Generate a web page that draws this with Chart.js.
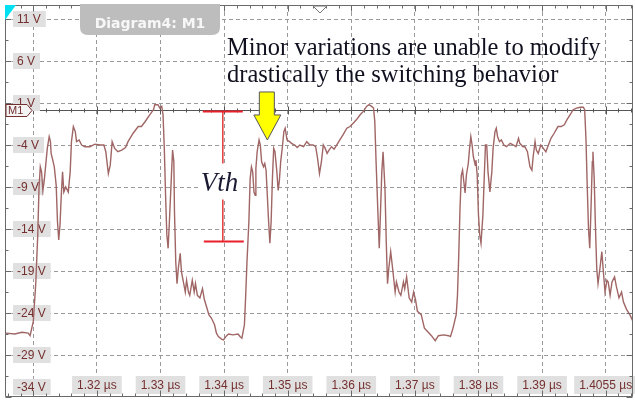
<!DOCTYPE html>
<html><head><meta charset="utf-8">
<script src="https://cdn.jsdelivr.net/npm/chart.js@4.4.0/dist/chart.umd.min.js"></script>
<style>html,body{margin:0;padding:0;background:#fff}#wrap{width:635px;height:400px}</style>
</head><body><div id="wrap"><canvas id="c" width="635" height="400"></canvas></div>
<script>
// ---- data (time in ns, voltage in V) ----
const TIME_NS = [
1305.7,1307.1,1308.2,1309.2,1309.5,1310.0,1310.4,1310.7,1310.9,1311.1,
1311.3,1311.5,1311.7,1312.0,1312.2,1312.5,1312.7,1312.8,1313.0,1313.3,
1313.6,1313.8,1314.0,1314.2,1314.4,1314.6,1314.8,1315.1,1315.5,1315.8,
1316.0,1316.3,1316.6,1316.8,1317.2,1317.6,1318.1,1318.9,1319.7,1320.5,
1321.1,1321.4,1321.8,1322.1,1322.4,1322.8,1323.3,1323.9,1324.5,1324.9,
1325.7,1326.5,1327.0,1327.6,1328.3,1328.9,1329.1,1329.6,1329.9,1330.2,
1330.4,1330.6,1330.8,1331.0,1331.2,1331.4,1331.7,1331.9,1332.1,1332.2,
1332.4,1332.6,1332.8,1333.1,1333.3,1333.6,1333.9,1334.1,1334.4,1334.6,
1335.0,1335.3,1335.5,1335.8,1336.2,1336.6,1336.9,1337.3,1337.6,1338.0,
1338.5,1338.8,1339.1,1339.6,1339.9,1340.4,1340.7,1341.4,1342.2,1342.5,
1342.8,1343.2,1343.4,1343.6,1343.9,1344.1,1344.3,1344.5,1344.7,1344.9,
1345.0,1345.2,1345.5,1345.7,1345.9,1346.2,1346.4,1346.6,1346.8,1347.0,
1347.2,1347.4,1347.6,1347.8,1348.0,1348.3,1348.5,1348.7,1348.9,1349.2,
1349.4,1349.6,1349.9,1350.3,1350.6,1351.1,1351.5,1351.9,1352.5,1353.0,
1353.5,1354.0,1354.4,1354.7,1355.0,1355.3,1355.6,1355.9,1356.2,1356.5,
1356.9,1357.3,1357.7,1358.2,1358.7,1359.3,1359.8,1360.3,1360.8,1361.4,
1361.9,1362.4,1362.8,1363.2,1363.5,1363.7,1363.9,1364.2,1364.4,1364.6,
1364.8,1365.0,1365.3,1365.5,1365.7,1365.9,1366.2,1366.5,1366.9,1367.1,
1367.5,1367.8,1368.2,1368.4,1368.7,1369.1,1369.5,1369.8,1370.1,1370.4,
1371.0,1371.5,1372.1,1372.6,1373.2,1373.7,1374.5,1375.3,1375.6,1376.0,
1376.5,1376.7,1376.9,1377.1,1377.3,1377.5,1377.7,1377.9,1378.1,1378.4,
1378.6,1378.8,1379.0,1379.2,1379.5,1379.6,1379.8,1380.0,1380.2,1380.4,
1380.7,1380.9,1381.1,1381.3,1381.5,1381.8,1382.1,1382.3,1382.6,1382.8,
1383.0,1383.3,1383.6,1384.0,1384.4,1385.0,1385.5,1385.9,1386.3,1386.5,
1387.0,1387.3,1387.7,1388.1,1388.4,1388.6,1388.9,1389.1,1389.4,1389.8,
1390.2,1390.6,1391.0,1391.4,1391.9,1392.5,1393.0,1393.5,1393.9,1394.4,
1394.9,1395.4,1396.0,1396.5,1396.7,1396.9,1397.1,1397.3,1397.5,1397.7,
1397.9,1398.0,1398.2,1398.4,1398.6,1398.8,1399.1,1399.4,1399.6,1399.9,
1400.2,1400.4,1400.7,1401.0,1401.4,1401.7,1402.1,1402.5,1402.8,1403.3,
1403.8,1404.3,1404.6];
const VOLTS = [
-26.4,-26.5,-26.3,-26.4,-26.7,-25.0,-20.3,-14.7,-9.1,-6.6,
-7.2,-9.4,-8.4,-6.0,-4.4,-3.0,-3.6,-5.0,-5.6,-6.6,
-8.8,-13.1,-15.3,-13.5,-10.0,-7.2,-9.6,-9.0,-9.6,-7.2,
-3.6,-1.8,-2.4,-3.6,-3.4,-4.0,-4.2,-4.2,-3.9,-4.0,
-4.0,-4.8,-7.4,-6.4,-3.6,-4.4,-4.8,-4.6,-4.3,-3.6,
-2.6,-1.8,-1.8,-1.2,-0.4,0.2,0.8,0.8,0.4,0.6,
-0.4,-4.4,-10.0,-14.7,-16.3,-13.1,-8.0,-4.6,-6.0,-11.9,
-17.9,-20.5,-18.7,-16.9,-19.1,-20.3,-21.5,-20.1,-21.5,-21.9,
-20.1,-21.5,-20.5,-21.9,-22.2,-21.1,-22.4,-23.4,-24.2,-24.6,
-25.4,-26.4,-26.8,-27.1,-27.2,-26.7,-26.5,-26.6,-26.5,-26.8,
-27.0,-25.4,-21.9,-17.9,-13.1,-8.0,-6.6,-7.2,-9.6,-10.0,
-6.8,-4.8,-3.4,-4.0,-6.0,-6.6,-6.2,-7.0,-10.0,-13.1,
-15.7,-13.1,-8.0,-4.4,-4.8,-7.2,-9.4,-8.2,-6.0,-4.0,
-2.4,-2.0,-3.4,-3.6,-3.8,-4.0,-4.3,-4.0,-4.2,-3.6,
-4.0,-4.0,-4.2,-5.6,-7.4,-6.0,-4.0,-4.4,-5.0,-4.6,
-4.2,-4.5,-4.0,-3.4,-2.8,-2.0,-1.8,-1.4,-1.0,-0.4,
0.0,0.6,0.8,0.6,0.4,-1.2,-6.0,-12.3,-16.3,-11.9,
-7.2,-4.8,-9.2,-15.5,-20.5,-18.7,-16.7,-18.7,-21.5,-20.3,
-21.5,-21.9,-20.3,-21.1,-19.7,-22.2,-22.7,-21.5,-22.4,-23.8,
-24.2,-25.8,-26.3,-26.7,-27.3,-26.7,-26.6,-26.7,-26.8,-25.8,
-24.2,-21.9,-17.1,-11.5,-7.6,-7.0,-8.4,-9.7,-7.6,-6.2,
-4.4,-3.0,-4.0,-5.4,-6.4,-5.8,-7.6,-12.3,-14.7,-15.7,
-12.3,-8.0,-4.0,-4.0,-7.2,-9.6,-7.2,-4.4,-2.4,-2.0,
-3.0,-3.6,-3.4,-4.0,-4.2,-3.8,-4.0,-4.2,-3.2,-3.8,
-4.2,-4.2,-4.8,-6.6,-7.0,-5.4,-3.6,-4.6,-5.0,-4.0,
-4.4,-4.8,-4.0,-3.2,-2.6,-1.8,-1.8,-1.6,-1.0,-0.4,
0.2,0.4,0.5,0.5,0.2,-3.2,-8.8,-13.9,-16.3,-11.5,
-6.0,-4.8,-8.0,-13.9,-18.7,-20.5,-18.7,-16.7,-18.7,-21.5,
-20.1,-20.3,-21.9,-20.3,-19.7,-20.9,-22.2,-21.5,-22.7,-23.6,
-24.2,-25.0,-25.4];

const X_TICKS = [1310,1320,1330,1340,1350,1360,1370,1380,1390,1400];
const X_TICK_LABELS = ['', '1.32 µs','1.33 µs','1.34 µs','1.35 µs','1.36 µs','1.37 µs','1.38 µs','1.39 µs','1.4055 µs'];
const Y_TICKS = [11,6,1,-4,-9,-14,-19,-24,-29,-34];
const Y_TICK_LABELS = ['11 V','6 V','1 V','-4 V','-9 V','-14 V','-19 V','-24 V','-29 V','-34 V'];
const M1_LEVEL = 0.2;
const VTH_TIME = 1339.8, VTH_HIGH = 0.0, VTH_LOW = -15.5;
const ARROW_TIP = {t: 1346.8, v: -3.4};
const NOTE_LINES = ['Minor variations are unable to modify', 'drastically the switching behavior'];
const TAB_TITLE = 'Diagram4: M1';

const X_MIN = 1305.55, X_MAX = 1404.3, Y_MIN = -34, Y_MAX = 12.67;

const LABEL_FONT = '12px "Liberation Sans", Arial, sans-serif';
const LABEL_COLOR = '#74302f';
const BOX_COLOR = '#e0e0e0';
const FRAME = '#6a6a6a';

const bgPlugin = {
  id: 'scopeBack',
  beforeDatasetsDraw(chart) {
    const {ctx, chartArea: a, scales: {x, y}} = chart;
    ctx.save();
    const my = Math.round(y.getPixelForValue(M1_LEVEL)) + 0.5;
    ctx.strokeStyle = '#555';
    ctx.lineWidth = 1;
    ctx.beginPath();
    ctx.moveTo(a.left, my); ctx.lineTo(a.right, my);
    for (let t = 1306; t <= 1404; t += 2) {
      const px = Math.round(x.getPixelForValue(t)) + 0.5;
      const len = (t % 10 === 0) ? 4 : 2;
      ctx.moveTo(px, my - len); ctx.lineTo(px, my + len);
    }
    ctx.stroke();
    ctx.font = LABEL_FONT;
    ctx.textBaseline = 'middle';
    ctx.textAlign = 'left';
    Y_TICKS.forEach((v, i) => {
      let py = y.getPixelForValue(v);
      if (py > a.bottom - 10) py = a.bottom - 10;
      const txt = Y_TICK_LABELS[i];
      const w = ctx.measureText(txt).width;
      ctx.fillStyle = BOX_COLOR;
      ctx.fillRect(a.left + 8, py - 8, w + 9, 16);
      ctx.fillStyle = LABEL_COLOR;
      ctx.fillText(txt, a.left + 12, py + 0.5);
    });
    ctx.textAlign = 'center';
    X_TICKS.forEach((v, i) => {
      const txt = X_TICK_LABELS[i];
      if (!txt) return;
      const px = x.getPixelForValue(v);
      const w = ctx.measureText(txt).width;
      const cy = a.bottom - 12;
      ctx.fillStyle = BOX_COLOR;
      ctx.fillRect(px - w / 2 - 5, cy - 9, w + 10, 18);
      ctx.fillStyle = LABEL_COLOR;
      ctx.fillText(txt, px, cy + 0.5);
    });
    ctx.restore();
  }
};

const fgPlugin = {
  id: 'scopeFront',
  afterDraw(chart) {
    const {ctx, chartArea: a, scales: {x, y}} = chart;
    ctx.save();
    ctx.strokeStyle = FRAME;
    ctx.lineWidth = 1;
    ctx.beginPath();
    const L = a.left + 0.5, R = a.right - 0.5, T = a.top + 0.5, B = a.bottom - 0.5;
    ctx.moveTo(L, T); ctx.lineTo(L, B); ctx.lineTo(R, B); ctx.lineTo(R, T); ctx.lineTo(L, T);
    for (let t = 1306; t <= 1404; t += 2) {
      const px = Math.round(x.getPixelForValue(t)) + 0.5;
      const len = (t % 10 === 0) ? 6 : 3;
      ctx.moveTo(px, B); ctx.lineTo(px, B - len);
      ctx.moveTo(px, T); ctx.lineTo(px, T + len);
    }
    for (let k = 0; k <= 18; k++) {
      const v = -34 + k * 2.5;
      const py = Math.round(y.getPixelForValue(v)) + 0.5;
      const len = (k % 2 === 0) ? 6 : 3;
      ctx.moveTo(L, py); ctx.lineTo(L + len, py);
      ctx.moveTo(R, py); ctx.lineTo(R - len, py);
    }
    ctx.stroke();

    const my = Math.round(y.getPixelForValue(M1_LEVEL)) + 0.5;
    ctx.beginPath();
    ctx.moveTo(a.left + 1, my - 6); ctx.lineTo(a.left + 22, my - 6);
    ctx.lineTo(a.left + 27, my); ctx.lineTo(a.left + 22, my + 6); ctx.lineTo(a.left + 1, my + 6);
    ctx.closePath();
    ctx.fillStyle = '#f3f3f3'; ctx.fill();
    ctx.strokeStyle = '#74302f'; ctx.stroke();
    ctx.fillStyle = '#74302f';
    ctx.font = '11px "Liberation Sans", Arial, sans-serif';
    ctx.textAlign = 'left'; ctx.textBaseline = 'middle';
    ctx.fillText('M1', a.left + 3, my + 0.5);

    const vx = x.getPixelForValue(VTH_TIME);
    const vyH = y.getPixelForValue(VTH_HIGH), vyL = y.getPixelForValue(VTH_LOW);
    ctx.strokeStyle = '#e23a3a'; ctx.lineWidth = 1.5;
    ctx.beginPath(); ctx.moveTo(vx, vyH); ctx.lineTo(vx, vyL); ctx.stroke();
    ctx.strokeStyle = '#e8202a'; ctx.lineWidth = 2;
    ctx.beginPath();
    ctx.moveTo(vx - 20, vyH); ctx.lineTo(vx + 20, vyH);
    ctx.moveTo(vx - 19, vyL); ctx.lineTo(vx + 21, vyL);
    ctx.stroke();
    ctx.font = 'italic 27px "Liberation Serif", "Times New Roman", serif';
    ctx.textAlign = 'left'; ctx.textBaseline = 'alphabetic';
    const vtw = ctx.measureText('Vth').width;
    const vty = (vyH + vyL) / 2 + 14;
    ctx.fillStyle = '#fff';
    ctx.fillRect(vx - 24, vty - 27, vtw + 4, 36);
    ctx.fillStyle = '#1a1a33';
    ctx.fillText('Vth', vx - 22, vty);

    const ax = x.getPixelForValue(ARROW_TIP.t), ay = y.getPixelForValue(ARROW_TIP.v);
    ctx.beginPath();
    ctx.moveTo(ax, ay);
    ctx.lineTo(ax + 13.5, ay - 25);
    ctx.lineTo(ax + 7, ay - 25);
    ctx.lineTo(ax + 7, ay - 48);
    ctx.lineTo(ax - 8, ay - 48);
    ctx.lineTo(ax - 8, ay - 25);
    ctx.lineTo(ax - 13.5, ay - 25);
    ctx.closePath();
    ctx.fillStyle = '#ffff00'; ctx.fill();
    ctx.strokeStyle = '#555'; ctx.lineWidth = 1; ctx.stroke();

    ctx.font = '24.5px "Liberation Serif", "Times New Roman", serif';
    ctx.fillStyle = '#10101f';
    ctx.textAlign = 'left'; ctx.textBaseline = 'alphabetic';
    ctx.fillText(NOTE_LINES[0], 227, 55);
    ctx.fillText(NOTE_LINES[1], 227, 82);

    ctx.beginPath();
    const tx0 = 80, tx1 = 220, ty0 = a.top - 1, ty1 = 35, r = 8;
    ctx.moveTo(tx0, ty0); ctx.lineTo(tx1, ty0); ctx.lineTo(tx1, ty1 - r);
    ctx.quadraticCurveTo(tx1, ty1, tx1 - r, ty1);
    ctx.lineTo(tx0 + r, ty1);
    ctx.quadraticCurveTo(tx0, ty1, tx0, ty1 - r);
    ctx.closePath();
    ctx.fillStyle = '#bdbdbd'; ctx.fill();
    ctx.fillStyle = '#f7f7f7';
    ctx.font = 'bold 14px "DejaVu Sans", Verdana, sans-serif';
    ctx.textAlign = 'center'; ctx.textBaseline = 'middle';
    ctx.fillText(TAB_TITLE, 150, 24);

    ctx.beginPath();
    ctx.moveTo(a.left, a.top); ctx.lineTo(a.left + 11, a.top); ctx.lineTo(a.left, a.top + 15);
    ctx.closePath();
    ctx.fillStyle = '#00e0f0'; ctx.fill();

    ctx.beginPath();
    ctx.moveTo(313, a.top + 1); ctx.lineTo(327, a.top + 1); ctx.lineTo(320, a.top + 8);
    ctx.closePath();
    ctx.fillStyle = '#fff'; ctx.fill();
    ctx.strokeStyle = '#777'; ctx.stroke();
    ctx.restore();
  }
};

new Chart(document.getElementById('c'), {
  type: 'line',
  data: {
    datasets: [{
      data: TIME_NS.map((t, i) => ({x: t, y: VOLTS[i]})),
      borderColor: '#a06565',
      borderWidth: 1.4,
      pointRadius: 0,
      tension: 0,
      fill: false
    }]
  },
  options: {
    responsive: false,
    animation: false,
    devicePixelRatio: 1,
    layout: {padding: {left: 5, top: 5, right: 2, bottom: 3}},
    plugins: {legend: {display: false}, tooltip: {enabled: false}},
    scales: {
      x: {
        type: 'linear', min: X_MIN, max: X_MAX,
        afterBuildTicks: s => { s.ticks = X_TICKS.map(v => ({value: v})); },
        ticks: {display: false},
        grid: {color: '#9a9a9a', drawTicks: false, lineWidth: 1},
        border: {display: false, dash: [4, 3]}
      },
      y: {
        type: 'linear', min: Y_MIN, max: Y_MAX,
        afterBuildTicks: s => { s.ticks = Y_TICKS.slice(0, -1).map(v => ({value: v})); },
        ticks: {display: false},
        grid: {color: '#9a9a9a', drawTicks: false, lineWidth: 1},
        border: {display: false, dash: [4, 3]}
      }
    }
  },
  plugins: [bgPlugin, fgPlugin]
});
</script>
</body></html>
